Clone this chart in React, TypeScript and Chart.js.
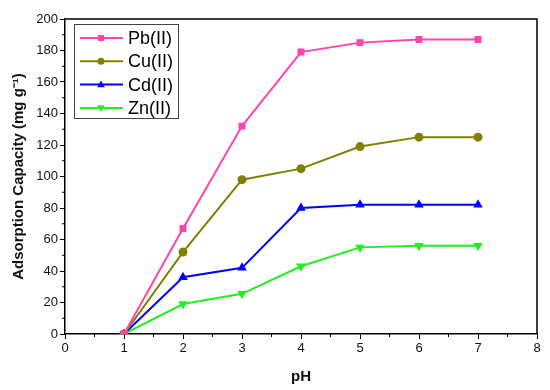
import { useEffect, useRef } from "react";
import { Chart, registerables } from "chart.js";
Chart.register(...registerables);

const phValues = [1, 2, 3, 4, 5, 6, 7];
const pbValues = [0, 67, 132, 179, 185, 187, 187];
const cuValues = [0, 52, 98, 105, 119, 125, 125];
const cdValues = [0, 36, 42, 80, 82, 82, 82];
const znValues = [0, 19, 25.5, 43, 55, 56, 56];
const seriesNames = ["Pb(II)", "Cu(II)", "Cd(II)", "Zn(II)"];
const seriesColors = ["#ff44aa", "#808000", "#0000ff", "#22ee22"];
const seriesStyles = ["rect", "circle", "triangle", "triangle"];
const seriesRotation = [0, 0, 0, 180];

const FONT = "Arial, 'Liberation Sans', sans-serif";

function drawMarker(ctx: any, style: string, rot: number, x: number, y: number, r: number, color: string) {
  ctx.save();
  ctx.fillStyle = color;
  ctx.translate(x, y);
  ctx.rotate((rot * Math.PI) / 180);
  ctx.beginPath();
  if (style === "rect") {
    ctx.rect(-r * 0.85, -r * 0.85, r * 1.7, r * 1.7);
  } else if (style === "circle") {
    ctx.arc(0, 0, r, 0, Math.PI * 2);
  } else {
    ctx.moveTo(0, -r * 1.15);
    ctx.lineTo(r * 1.1, r * 0.75);
    ctx.lineTo(-r * 1.1, r * 0.75);
    ctx.closePath();
  }
  ctx.fill();
  ctx.restore();
}

const framePlugin = {
  id: "frameAndLegend",
  afterDraw(chart: any) {
    const ctx = chart.ctx;
    const { left, right, top, bottom } = chart.chartArea;
    const xs = chart.scales.x;
    const ys = chart.scales.y;
    ctx.save();
    ctx.strokeStyle = "#000";
    ctx.lineWidth = 1.5;
    ctx.beginPath();
    ctx.moveTo(left, top);
    ctx.lineTo(right, top);
    ctx.lineTo(right, bottom);
    ctx.stroke();
    // minor ticks
    ctx.lineWidth = 1;
    ctx.beginPath();
    for (let v = 0.5; v < 8; v += 1) {
      const px = xs.getPixelForValue(v);
      ctx.moveTo(px, bottom);
      ctx.lineTo(px, bottom + 3);
    }
    for (let v = 10; v < 200; v += 20) {
      const py = ys.getPixelForValue(v);
      ctx.moveTo(left, py);
      ctx.lineTo(left - 3, py);
    }
    ctx.stroke();
    // legend
    const bx = left + 9, by = top + 5, bw = 104, bh = 94;
    ctx.fillStyle = "#fff";
    ctx.fillRect(bx, by, bw, bh);
    ctx.strokeStyle = "#444";
    ctx.lineWidth = 1;
    ctx.strokeRect(bx + 0.5, by + 0.5, bw, bh);
    chart.data.datasets.forEach((ds: any, i: number) => {
      const cy = by + 14 + i * 23.3;
      ctx.strokeStyle = ds.borderColor;
      ctx.lineWidth = 2;
      ctx.beginPath();
      ctx.moveTo(bx + 6, cy);
      ctx.lineTo(bx + 49, cy);
      ctx.stroke();
      drawMarker(ctx, ds.pointStyle, ds.pointRotation || 0, bx + 27, cy, 3.5, ds.borderColor);
      ctx.fillStyle = "#000";
      ctx.font = `18px ${FONT}`;
      ctx.textBaseline = "middle";
      ctx.textAlign = "left";
      ctx.fillText(ds.label, bx + 54, cy + 1);
    });
    ctx.restore();
  },
};

export default function App() {
  const ref = useRef<HTMLCanvasElement>(null);
  useEffect(() => {
    document.body.style.margin = "0";
    const allValues = [pbValues, cuValues, cdValues, znValues];
    const chart = new Chart(ref.current!, {
      type: "line",
      data: {
        datasets: allValues.map((vals, i) => ({
          label: seriesNames[i],
          data: phValues.map((p, j) => ({ x: p, y: vals[j] })),
          borderColor: seriesColors[i],
          backgroundColor: seriesColors[i],
          pointBackgroundColor: seriesColors[i],
          pointBorderColor: seriesColors[i],
          pointStyle: seriesStyles[i] as any,
          pointRotation: seriesRotation[i],
          pointRadius: 3.5,
          borderWidth: 2,
          tension: 0,
          fill: false,
        })),
      },
      options: {
        animation: false,
        responsive: false,
        maintainAspectRatio: false,
        layout: { padding: { left: 0, right: 13, top: 19, bottom: 0 } },
        plugins: { legend: { display: false }, tooltip: { enabled: false } },
        scales: {
          x: {
            type: "linear",
            min: 0,
            max: 8,
            border: { color: "#000", width: 1.5 },
            grid: { drawOnChartArea: false, drawTicks: true, tickLength: 5, color: "#000" },
            ticks: { stepSize: 1, color: "#111", font: { family: FONT, size: 13 }, padding: 2 },
            title: { display: true, text: "pH", color: "#111", font: { family: FONT, size: 15, weight: "bold" }, padding: { top: 0, bottom: 4 } },
            afterFit: (s: any) => { s.height = 56; },
          },
          y: {
            min: 0,
            max: 200,
            border: { color: "#000", width: 1.5 },
            grid: { drawOnChartArea: false, drawTicks: true, tickLength: 5, color: "#000" },
            ticks: { stepSize: 20, color: "#111", font: { family: FONT, size: 13 }, padding: 2 },
            title: { display: true, text: "Adsorption Capacity (mg g⁻¹)", color: "#111", font: { family: FONT, size: 15, weight: "bold" }, padding: { top: 10, bottom: 0 } },
            afterFit: (s: any) => { s.width = 65; },
          },
        },
      },
      plugins: [framePlugin],
    });
    return () => chart.destroy();
  }, []);
  return (
    <div style={{ width: 550, height: 390 }}>
      <canvas ref={ref} width={550} height={390} style={{ display: "block" }} />
    </div>
  );
}
